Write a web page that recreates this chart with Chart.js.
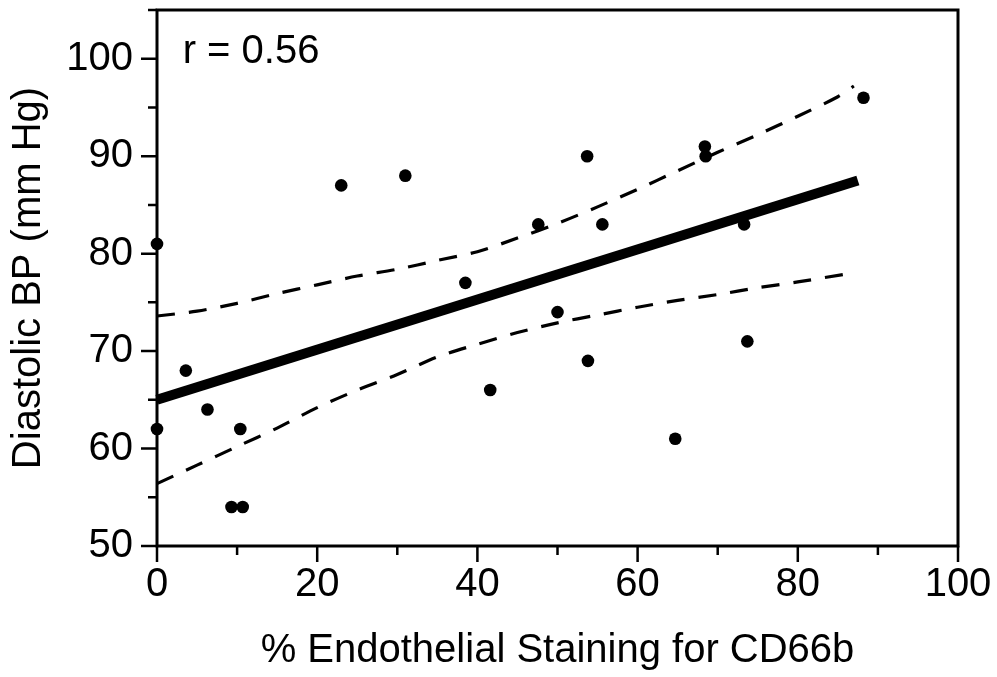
<!DOCTYPE html>
<html>
<head>
<meta charset="utf-8">
<script src="https://cdn.jsdelivr.net/npm/chart.js@4"></script>
<style>
  html, body { margin: 0; padding: 0; background: #fff; }
  #wrap { width: 997px; height: 677px; }
</style>
</head>
<body>
<div id="wrap"><canvas id="chart" width="997" height="677"></canvas></div>
<script>
// data
const stainPct = [0, 0, 3.6, 6.3, 9.3, 10.7, 10.4, 23, 31, 38.5, 41.6, 47.6, 50, 53.7, 53.8, 55.6, 64.7, 68.4, 68.5, 73.3, 73.7, 88.2];
const diastolic = [81, 62, 68, 64, 54, 54, 62, 87, 88, 77, 66, 83, 74, 90, 69, 83, 61, 91, 90, 83, 71, 96];

// regression line
const fitX = [0, 87.5];
const fitY = [65, 87.5];

// confidence band (dashed)
const upperX = [0, 5, 10, 15, 20, 25, 30, 35, 40, 45, 50, 55, 60, 65, 70, 75, 80, 85, 87];
const upperY = [73.6, 74.1, 74.9, 75.9, 76.8, 77.7, 78.4, 79.3, 80.2, 81.6, 83.1, 84.8, 86.6, 88.5, 90.4, 92.2, 94.1, 96.1, 97.2];
const lowerX = [0, 5, 10, 15, 20, 25, 30, 35, 40, 45, 50, 55, 60, 65, 70, 75, 80, 86];
const lowerY = [56.4, 58.3, 60.2, 62.1, 64.2, 66.0, 67.6, 69.4, 70.7, 71.9, 72.9, 73.7, 74.5, 75.2, 75.8, 76.5, 77.1, 77.9];

const xLabels = [0, 20, 40, 60, 80, 100];
const yLabels = [50, 60, 70, 80, 90, 100];
const rText = 'r = 0.56';

const FONT = '"Liberation Sans", Arial, Helvetica, sans-serif';
const FSIZE = 40;

function pairs(xs, ys) {
  return xs.map((x, i) => ({ x: x, y: ys[i] }));
}

// frame, tick marks and the r label
const framePlugin = {
  id: 'frame',
  afterDraw(chart) {
    const ctx = chart.ctx;
    const a = chart.chartArea;
    const xs = chart.scales.x;
    const ys = chart.scales.y;
    ctx.save();
    ctx.strokeStyle = '#000';
    ctx.lineWidth = 3;
    ctx.strokeRect(a.left, a.top, a.right - a.left, a.bottom - a.top);

    ctx.lineWidth = 2.5;
    ctx.beginPath();
    xs.ticks.forEach(t => {
      const px = xs.getPixelForValue(t.value);
      const len = xLabels.includes(t.value) ? 16 : 9;
      ctx.moveTo(px, a.bottom);
      ctx.lineTo(px, a.bottom + len);
    });
    ys.ticks.forEach(t => {
      const py = ys.getPixelForValue(t.value);
      const len = yLabels.includes(t.value) ? 16 : 9;
      ctx.moveTo(a.left, py);
      ctx.lineTo(a.left - len, py);
    });
    ctx.stroke();

    ctx.fillStyle = '#000';
    ctx.font = FSIZE + 'px ' + FONT;
    ctx.textAlign = 'left';
    ctx.textBaseline = 'alphabetic';
    ctx.fillText(rText, xs.getPixelForValue(3.2), ys.getPixelForValue(99.6));
    ctx.restore();
  }
};

const ctx = document.getElementById('chart').getContext('2d');
const chart = new Chart(ctx, {
  type: 'scatter',
  data: {
    datasets: [
      {
        data: pairs(stainPct, diastolic),
        backgroundColor: '#000',
        borderColor: '#000',
        pointRadius: 6.3,
        pointBorderWidth: 0
      },
      {
        data: pairs(fitX, fitY),
        showLine: true,
        borderColor: '#000',
        borderWidth: 10,
        borderCapStyle: 'butt',
        pointRadius: 0
      },
      {
        data: pairs(upperX, upperY),
        showLine: true,
        borderColor: '#000',
        borderWidth: 3.2,
        borderDash: [18, 14],
        tension: 0.3,
        pointRadius: 0
      },
      {
        data: pairs(lowerX, lowerY),
        showLine: true,
        borderColor: '#000',
        borderWidth: 3.2,
        borderDash: [18, 14],
        tension: 0.3,
        pointRadius: 0
      }
    ]
  },
  options: {
    responsive: false,
    animation: false,
    clip: false,
    layout: { padding: { left: 0, top: 10, right: 39, bottom: 0 } },
    plugins: {
      legend: { display: false },
      tooltip: { enabled: false }
    },
    scales: {
      x: {
        type: 'linear',
        min: 0,
        max: 100,
        afterFit: s => { s.height = 131; s.paddingLeft = 0; s.paddingRight = 0; },
        grid: { display: false, drawTicks: false },
        border: { display: false },
        ticks: {
          stepSize: 10,
          autoSkip: false,
          maxRotation: 0,
          padding: 15,
          color: '#000',
          font: { family: FONT, size: FSIZE },
          callback: v => xLabels.includes(v) ? String(v) : ''
        },
        title: {
          display: true,
          text: '% Endothelial Staining for CD66b',
          color: '#000',
          font: { family: FONT, size: FSIZE },
          padding: { top: 0, bottom: 2 }
        }
      },
      y: {
        type: 'linear',
        min: 50,
        max: 105,
        afterFit: s => { s.width = 157; s.paddingTop = 0; s.paddingBottom = 0; },
        grid: { display: false, drawTicks: false },
        border: { display: false },
        ticks: {
          stepSize: 5,
          autoSkip: false,
          padding: 24,
          color: '#000',
          font: { family: FONT, size: FSIZE },
          callback: v => yLabels.includes(v) ? String(v) : ''
        },
        title: {
          display: true,
          text: 'Diastolic BP (mm Hg)',
          color: '#000',
          font: { family: FONT, size: FSIZE },
          padding: { top: 5, bottom: 0 }
        }
      }
    }
  },
  plugins: [framePlugin]
});
</script>
</body>
</html>
